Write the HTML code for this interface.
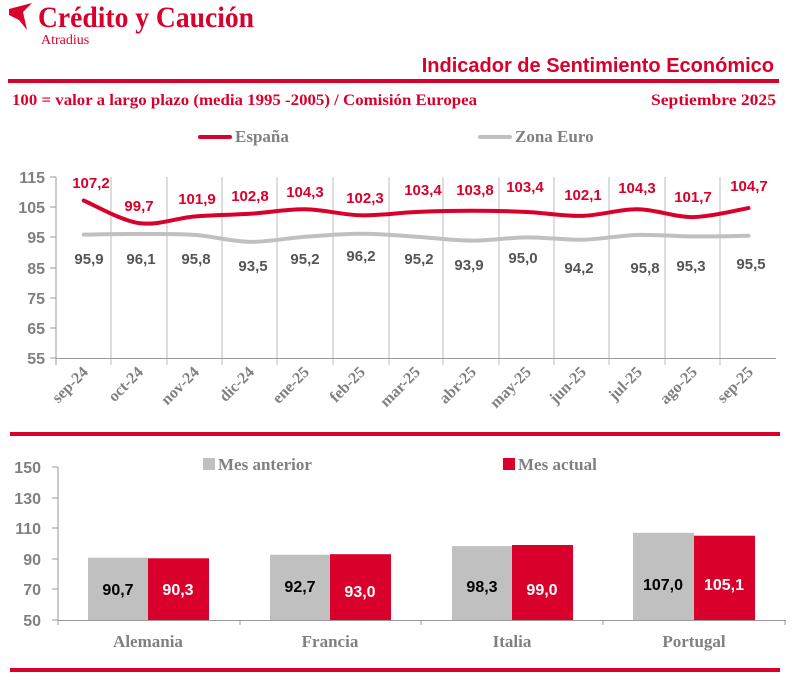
<!DOCTYPE html>
<html><head><meta charset="utf-8"><style>
html,body{margin:0;padding:0;background:#fff}
svg{display:block}
.s{font-family:"Liberation Serif",serif;font-weight:bold}
.a{font-family:"Liberation Sans",sans-serif;font-weight:bold}
</style></head><body>
<svg width="792" height="683" viewBox="0 0 792 683" xmlns="http://www.w3.org/2000/svg">
<path d="M9 9 L32 3 L23 12 L27 30 L19 20 L9 15 Z" fill="#d9002b"/>
<text x="38" y="27" class="s" font-size="30" fill="#d9002b" textLength="216" lengthAdjust="spacingAndGlyphs">Crédito y Caución</text>
<text x="41" y="44" font-family="Liberation Serif,serif" font-size="14" fill="#d9002b">Atradius</text>
<text x="774" y="72" text-anchor="end" class="a" font-size="20" fill="#d9002b">Indicador de Sentimiento Económico</text>
<rect x="8" y="79" width="771" height="4" fill="#d9002b"/>
<text x="12" y="105" class="s" font-size="16" fill="#d9002b" textLength="465" lengthAdjust="spacingAndGlyphs">100 = valor a largo plazo (media 1995 -2005) / Comisión Europea</text>
<text x="776" y="105" text-anchor="end" class="s" font-size="16" fill="#d9002b" textLength="125" lengthAdjust="spacingAndGlyphs">Septiembre 2025</text>
<rect x="198" y="135" width="34" height="4" rx="2" fill="#d9002b"/>
<text x="235" y="142" class="s" font-size="17" fill="#808080">España</text>
<rect x="478" y="135" width="34" height="4" rx="2" fill="#c0c0c0"/>
<text x="515" y="142" class="s" font-size="17" fill="#808080">Zona Euro</text>
<g stroke="#bbb" stroke-width="1">
<line x1="111" y1="177" x2="111" y2="365"/><line x1="167" y1="177" x2="167" y2="365"/><line x1="222" y1="177" x2="222" y2="365"/><line x1="277" y1="177" x2="277" y2="365"/><line x1="333" y1="177" x2="333" y2="365"/><line x1="389" y1="177" x2="389" y2="365"/><line x1="443" y1="177" x2="443" y2="365"/><line x1="499" y1="177" x2="499" y2="365"/><line x1="554" y1="177" x2="554" y2="365"/><line x1="609" y1="177" x2="609" y2="365"/><line x1="665" y1="177" x2="665" y2="365"/><line x1="720" y1="177" x2="720" y2="365"/>
</g>
<g stroke="#999" stroke-width="1">
<line x1="56" y1="177" x2="56" y2="365"/><line x1="56" y1="358.5" x2="776" y2="358.5"/>
<line x1="50" y1="177" x2="56" y2="177"/><line x1="50" y1="207" x2="56" y2="207"/><line x1="50" y1="237" x2="56" y2="237"/><line x1="50" y1="268" x2="56" y2="268"/><line x1="50" y1="298" x2="56" y2="298"/><line x1="50" y1="328" x2="56" y2="328"/><line x1="50" y1="358" x2="56" y2="358"/>
</g>
<g class="a" font-size="16" fill="#808080" text-anchor="end">
<text x="45" y="183">115</text><text x="45" y="213">105</text><text x="45" y="243">95</text><text x="45" y="274">85</text><text x="45" y="304">75</text><text x="45" y="334">65</text><text x="45" y="364">55</text>
</g>
<path id="es" fill="none" stroke="#d9002b" stroke-width="4" stroke-linecap="round"/>
<path id="eu" fill="none" stroke="#c0c0c0" stroke-width="4" stroke-linecap="round"/>
<g class="a" font-size="15" fill="#d9002b" text-anchor="middle">
<text x="91" y="188">107,2</text><text x="139" y="211">99,7</text><text x="197" y="204">101,9</text><text x="250" y="201">102,8</text><text x="305" y="197">104,3</text><text x="365" y="203">102,3</text><text x="423" y="195">103,4</text><text x="475" y="195">103,8</text><text x="525" y="192">103,4</text><text x="583" y="200">102,1</text><text x="637" y="193">104,3</text><text x="693" y="202">101,7</text><text x="749" y="191">104,7</text>
</g>
<g class="a" font-size="15" fill="#555" text-anchor="middle">
<text x="89" y="264">95,9</text><text x="141" y="264">96,1</text><text x="196" y="264">95,8</text><text x="253" y="271">93,5</text><text x="305" y="264">95,2</text><text x="361" y="261">96,2</text><text x="419" y="264">95,2</text><text x="469" y="270">93,9</text><text x="523" y="263">95,0</text><text x="579" y="273">94,2</text><text x="645" y="273">95,8</text><text x="691" y="271">95,3</text><text x="751" y="269">95,5</text>
</g>
<g class="s" font-size="16" fill="#808080" text-anchor="end">
<text transform="translate(89,373) rotate(-45)">sep-24</text>
<text transform="translate(144,373) rotate(-45)">oct-24</text>
<text transform="translate(200,373) rotate(-45)">nov-24</text>
<text transform="translate(255,373) rotate(-45)">dic-24</text>
<text transform="translate(310,373) rotate(-45)">ene-25</text>
<text transform="translate(366,373) rotate(-45)">feb-25</text>
<text transform="translate(421,373) rotate(-45)">mar-25</text>
<text transform="translate(477,373) rotate(-45)">abr-25</text>
<text transform="translate(532,373) rotate(-45)">may-25</text>
<text transform="translate(587,373) rotate(-45)">jun-25</text>
<text transform="translate(643,373) rotate(-45)">jul-25</text>
<text transform="translate(698,373) rotate(-45)">ago-25</text>
<text transform="translate(754,373) rotate(-45)">sep-25</text>
</g>
<rect x="10" y="432" width="770" height="4" fill="#d9002b"/>
<rect x="203" y="458" width="12" height="12" fill="#c0c0c0"/>
<text x="218" y="470" class="s" font-size="17" fill="#808080">Mes anterior</text>
<rect x="503" y="458" width="12" height="12" fill="#d9002b"/>
<text x="518" y="470" class="s" font-size="17" fill="#808080">Mes actual</text>
<g stroke="#999" stroke-width="1">
<line x1="58" y1="467" x2="58" y2="625"/><line x1="58" y1="620.5" x2="786" y2="620.5"/>
<line x1="52" y1="467" x2="58" y2="467"/><line x1="52" y1="498" x2="58" y2="498"/><line x1="52" y1="528" x2="58" y2="528"/><line x1="52" y1="559" x2="58" y2="559"/><line x1="52" y1="589" x2="58" y2="589"/><line x1="52" y1="620" x2="58" y2="620"/>
<line x1="240" y1="620" x2="240" y2="625"/><line x1="421" y1="620" x2="421" y2="625"/><line x1="603" y1="620" x2="603" y2="625"/><line x1="785" y1="620" x2="785" y2="625"/>
</g>
<g class="a" font-size="16" fill="#808080" text-anchor="end">
<text x="41" y="473">150</text><text x="41" y="504">130</text><text x="41" y="534">110</text><text x="41" y="565">90</text><text x="41" y="595">70</text><text x="41" y="626">50</text>
</g>
<rect x="88" y="557.7" width="60" height="62.3" fill="#c0c0c0"/><rect x="148" y="558.3" width="61" height="61.7" fill="#d9002b"/>
<rect x="270" y="554.7" width="60" height="65.3" fill="#c0c0c0"/><rect x="330" y="554.2" width="61" height="65.8" fill="#d9002b"/>
<rect x="452" y="546.1" width="60" height="73.9" fill="#c0c0c0"/><rect x="512" y="545" width="61" height="75" fill="#d9002b"/>
<rect x="633" y="532.8" width="61" height="87.2" fill="#c0c0c0"/><rect x="694" y="535.7" width="61" height="84.3" fill="#d9002b"/>
<g class="a" font-size="16" text-anchor="middle">
<text x="118" y="595" fill="#000">90,7</text><text x="178" y="595" fill="#fff">90,3</text>
<text x="300" y="592" fill="#000">92,7</text><text x="360" y="597" fill="#fff">93,0</text>
<text x="482" y="592" fill="#000">98,3</text><text x="542" y="595" fill="#fff">99,0</text>
<text x="663" y="590" fill="#000">107,0</text><text x="724" y="590" fill="#fff">105,1</text>
</g>
<g class="s" font-size="17" fill="#808080" text-anchor="middle">
<text x="148" y="647">Alemania</text><text x="330" y="647">Francia</text><text x="512" y="647">Italia</text><text x="694" y="647">Portugal</text>
</g>
<rect x="10" y="668" width="770" height="4" fill="#d9002b"/>
</svg>
<script>
function sm(p){var d="M"+p[0][0]+" "+p[0][1];for(var i=0;i<p.length-1;i++){var a=p[i-1]||p[i],b=p[i],c=p[i+1],e=p[i+2]||c;d+=" C"+(b[0]+(c[0]-a[0])/6)+" "+(b[1]+(c[1]-a[1])/6)+" "+(c[0]-(e[0]-b[0])/6)+" "+(c[1]-(e[1]-b[1])/6)+" "+c[0]+" "+c[1];}return d;}
var es=[107.2,99.7,101.9,102.8,104.3,102.3,103.4,103.8,103.4,102.1,104.3,101.7,104.7],eu=[95.9,96.1,95.8,93.5,95.2,96.2,95.2,93.9,95.0,94.2,95.8,95.3,95.5];
function pts(v){return v.map(function(y,i){return[83.7+55.4*i,358-(y-55)*3.017];});}
document.getElementById("es").setAttribute("d",sm(pts(es)));
document.getElementById("eu").setAttribute("d",sm(pts(eu)));
</script>
</body></html>
